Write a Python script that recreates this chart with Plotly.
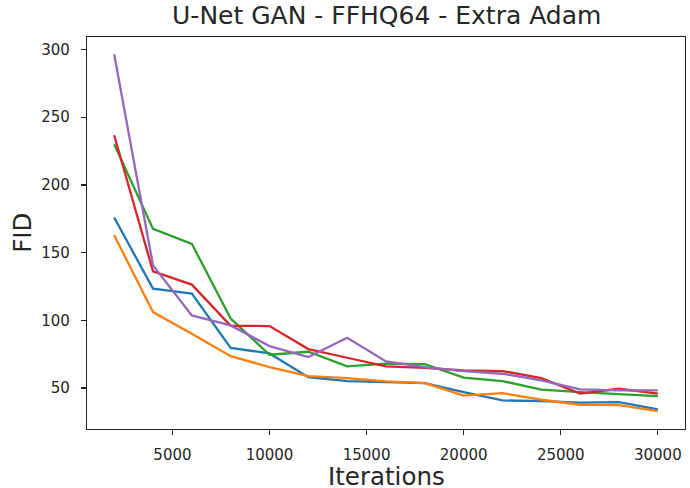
import plotly.graph_objects as go

iterations = [2000, 4000, 6000, 8000, 10000, 12000, 14000, 16000, 18000, 20000,
              22000, 24000, 26000, 28000, 30000]

run_blue = [175.9, 123.4, 119.7, 79.7, 75.6, 58.1, 55.2, 54.2, 53.7, 47.0,
            40.9, 40.4, 39.2, 39.7, 34.3]
run_orange = [162.8, 106.1, 90.2, 73.6, 65.5, 58.9, 57.4, 55.0, 53.7, 44.4,
              46.3, 41.4, 37.7, 37.4, 33.0]
run_green = [230.0, 167.5, 156.5, 101.3, 74.6, 76.8, 66.0, 68.0, 67.7, 57.7,
             55.2, 48.8, 47.0, 45.3, 44.0]
run_red = [236.7, 136.2, 126.4, 96.0, 95.8, 78.8, 72.4, 66.0, 65.0, 63.0,
           62.6, 57.4, 45.9, 49.5, 45.9]
run_purple = [296.5, 140.6, 103.7, 96.3, 81.0, 72.9, 87.2, 69.7, 65.5, 62.6,
              60.6, 55.7, 49.0, 48.3, 48.3]

series = [run_blue, run_orange, run_green, run_red, run_purple]
colors = ["#1f77b4", "#ff7f0e", "#2ca02c", "#d62728", "#9467bd"]

x_ticks = [5000, 10000, 15000, 20000, 25000, 30000]
y_ticks = [50, 100, 150, 200, 250, 300]

title_text = "U-Net GAN - FFHQ64 - Extra Adam"
x_label = "Iterations"
y_label = "FID"

fig = go.Figure()
for vals, col in zip(series, colors):
    fig.add_trace(go.Scatter(x=iterations, y=vals, mode="lines",
                             line=dict(color=col, width=2.3),
                             showlegend=False, hoverinfo="skip"))

font_family = "DejaVu Sans"
text_color = "#262626"
axis_common = dict(showline=True, linecolor="#222", linewidth=1.2, mirror=True,
                   ticks="outside", ticklen=5, tickwidth=1.2, tickcolor="#222",
                   showgrid=False, zeroline=False, automargin=False,
                   tickfont=dict(family=font_family, size=15, color=text_color))

fig.update_layout(
    template="none",
    width=690, height=488,
    margin=dict(l=87, r=5, t=37, b=59, autoexpand=False),
    paper_bgcolor="white", plot_bgcolor="white",
    hovermode=False,
    title=dict(text=title_text, x=0.5605, xanchor="center", y=0.968, yanchor="middle",
               font=dict(family=font_family, size=25, color=text_color)),
    xaxis=dict(range=[600, 31400], tickvals=x_ticks,
               ticktext=[str(v) for v in x_ticks], ticklabelstandoff=7,
               **axis_common),
    yaxis=dict(range=[19.8, 309.2], tickvals=y_ticks,
               ticktext=[str(v) for v in y_ticks], ticklabelstandoff=8,
               **axis_common),
    annotations=[
        dict(text=x_label, xref="paper", yref="paper", x=0.5, y=-0.12,
             xanchor="center", yanchor="middle", showarrow=False,
             font=dict(family=font_family, size=24.5, color=text_color)),
        dict(text=y_label, xref="paper", yref="paper", x=-0.109, y=0.5,
             xanchor="center", yanchor="middle", textangle=-90, showarrow=False,
             font=dict(family=font_family, size=24.5, color=text_color)),
    ],
)

fig.write_html("out.html",
               config={"displayModeBar": False, "staticPlot": True},
               post_script="document.body.style.margin='0';document.body.style.padding='0';")
